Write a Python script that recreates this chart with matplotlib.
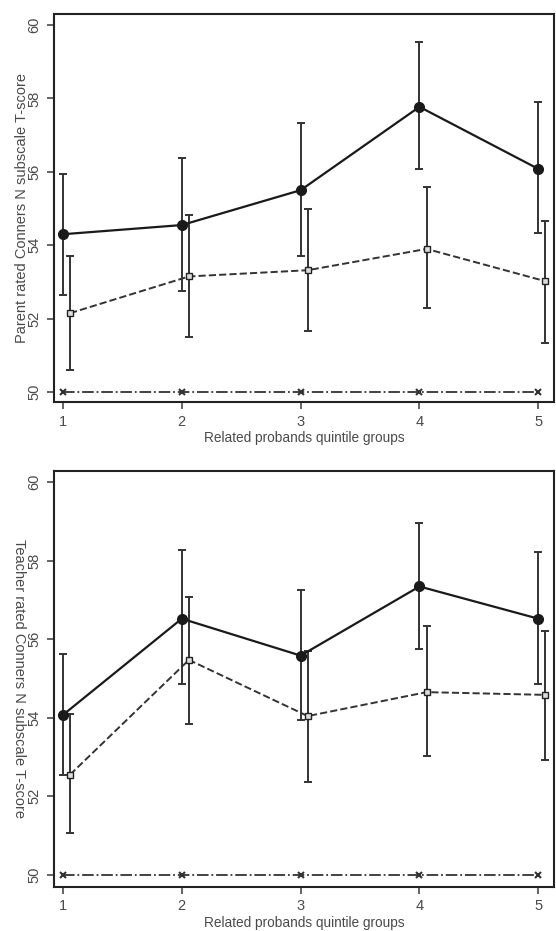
import matplotlib.pyplot as plt

plt.rcParams['font.family'] = ['Liberation Sans', 'DejaVu Sans']

# quintile groups
groups = [1, 2, 3, 4, 5]
offset = 0.06  # second series drawn slightly to the right

# top panel: parent rated
parent_a = [54.3, 54.55, 55.5, 57.77, 56.08]
parent_a_lo = [52.65, 52.75, 53.7, 56.08, 54.33]
parent_a_hi = [55.95, 56.38, 57.33, 59.54, 57.9]
parent_b = [52.15, 53.15, 53.32, 53.9, 53.02]
parent_b_lo = [50.6, 51.5, 51.66, 52.29, 51.34]
parent_b_hi = [53.7, 54.82, 55.0, 55.58, 54.66]
parent_c = [50, 50, 50, 50, 50]

# bottom panel: teacher rated
teacher_a = [54.07, 56.52, 55.58, 57.34, 56.52]
teacher_a_lo = [52.53, 54.86, 53.94, 55.75, 54.86]
teacher_a_hi = [55.63, 58.26, 57.26, 58.95, 58.21]
teacher_b = [52.55, 55.47, 54.04, 54.65, 54.58]
teacher_b_lo = [51.07, 53.84, 52.35, 53.02, 52.92]
teacher_b_hi = [54.1, 57.06, 55.7, 56.34, 56.2]
teacher_c = [50, 50, 50, 50, 50]

yticks = [50, 52, 54, 56, 58, 60]
grey = '#4a4a4a'


def panel(ax, a, alo, ahi, b, blo, bhi, c, ylabel, ylim, lab_rot, lab_x):
    xb = [g + offset for g in groups]
    ax.errorbar(groups, a, yerr=[[v - l for v, l in zip(a, alo)], [h - v for v, h in zip(a, ahi)]],
                fmt='-o', color='#1a1a1a', ecolor='#333333', lw=1.6, elinewidth=1.4,
                ms=7, capsize=3, capthick=1.4, zorder=3)
    ax.errorbar(xb, b, yerr=[[v - l for v, l in zip(b, blo)], [h - v for v, h in zip(b, bhi)]],
                fmt='--s', color='#333333', ecolor='#333333', lw=1.4, elinewidth=1.4,
                ms=5, mfc='#dddddd', mec='#222222', capsize=3, capthick=1.4, zorder=3)
    ax.plot(groups, c, '-.x', color='#333333', lw=1.3, ms=4, mew=1.5)
    ax.set_xlim(0.924, 5.135)
    ax.set_ylim(*ylim)
    ax.set_yticks(yticks)
    ax.set_xticks(groups)
    ax.tick_params(axis='both', direction='out', length=5, width=1.2, colors=grey,
                   labelsize=10.5, pad=4)
    ax.tick_params(axis='y', labelrotation=90)
    for lbl in ax.get_yticklabels():
        lbl.set_va('center')
    for s in ax.spines.values():
        s.set_linewidth(1.5)
        s.set_color('#222222')
    ax.set_xlabel('Related probands quintile groups', fontsize=9.8, color=grey, labelpad=2)
    ax.text(lab_x, 0.5, ylabel, rotation=lab_rot, transform=ax.transAxes,
            ha='center', va='center', fontsize=10.5, color=grey)


fig = plt.figure(figsize=(5.56, 9.31), dpi=100)
ax1 = fig.add_axes([0.097, 0.5682, 0.9, 0.4168])
ax2 = fig.add_axes([0.097, 0.0473, 0.9, 0.4468])

panel(ax1, parent_a, parent_a_lo, parent_a_hi, parent_b, parent_b_lo, parent_b_hi, parent_c,
      'Parent rated Conners N subscale T-score', (49.73, 60.3), 90, -0.064)
panel(ax2, teacher_a, teacher_a_lo, teacher_a_hi, teacher_b, teacher_b_lo, teacher_b_hi, teacher_c,
      'Teacher rated Conners N subscale T-score', (49.69, 60.28), 270, -0.07)

fig.savefig('out.png', dpi=100)
